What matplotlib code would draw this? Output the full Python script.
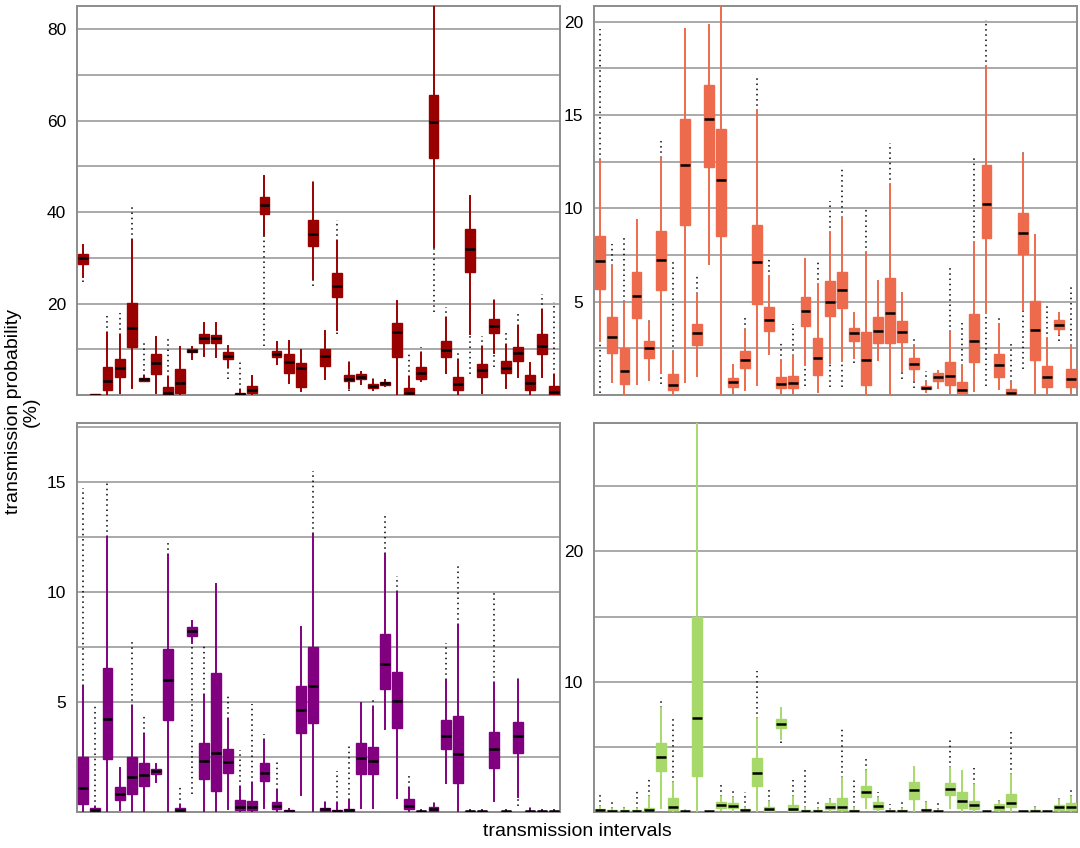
import numpy as np
import matplotlib
matplotlib.use("Agg")
import matplotlib.pyplot as plt

plt.rcParams['font.family'] = ['Liberation Sans', 'DejaVu Sans']

# ---------------- data ----------------
# each panel: whisker low, q1, median, q3, whisker high, outlier max (above), outlier min (below)
N = np.nan

p1_wlo = [25.9, 0, 0, 0.4, 1.5, 3.0, 0.4, 0, 0, 7.9, 8.5, 8.2, 6.2, 0, 0, 35.0, 6.8, 2.7, 0.9, 25.3,
          3.6, 14.2, 1.6, 2.4, 1.2, 2.0, 0, 0, 3.1, 32.3, 4.7, 0, 13.3, 0.5, 9.1, 1.6, 4.0, 0, 4.0, 0]
p1_q1 = [28.6, 0, 1.1, 4.0, 10.4, 3.1, 4.5, 0.1, 0.5, 9.3, 11.3, 11.3, 7.8, 0.1, 0.4, 39.6, 8.2, 4.9, 1.7, 32.6,
         6.4, 21.4, 3.1, 3.4, 1.6, 2.2, 8.4, 0, 3.6, 51.8, 8.2, 1.1, 26.8, 3.9, 13.5, 4.7, 7.4, 1.2, 9.0, 0]
p1_med = [29.9, 0.1, 3.1, 5.8, 14.6, 3.4, 6.9, 0.4, 2.6, 9.7, 12.4, 12.4, 8.5, 0.3, 1.2, 41.5, 8.9, 7.3, 5.8, 35.3,
          8.5, 23.9, 3.6, 4.0, 2.0, 2.6, 13.7, 0.4, 4.7, 59.6, 9.9, 2.3, 32.0, 5.5, 15.0, 6.0, 9.1, 2.7, 10.8, 0.6]
p1_q3 = [30.8, 0.2, 6.2, 7.8, 20.1, 3.8, 8.9, 1.8, 5.6, 10.1, 13.3, 13.1, 9.3, 0.5, 2.0, 43.3, 9.6, 8.9, 6.9, 38.3,
         10.1, 26.6, 4.4, 4.5, 2.4, 2.9, 15.7, 1.6, 6.1, 65.5, 11.8, 3.9, 36.3, 6.7, 16.6, 7.4, 10.6, 4.4, 13.3, 2.0]
p1_whi = [32.8, 0.3, 13.5, 13.1, 33.8, 4.2, 12.6, 4.0, 10.6, 10.6, 15.8, 15.8, 10.8, 1.0, 4.2, 47.8, 11.5, 11.7, 9.9, 46.4,
          14.0, 33.7, 6.9, 5.1, 3.3, 3.3, 20.6, 4.0, 9.1, 86.0, 16.8, 7.7, 43.4, 10.6, 20.6, 10.9, 15.0, 6.9, 18.5, 4.4]
p1_ohi = [N, N, 17.3, 17.9, 41.2, 11.3, N, 12.6, N, N, N, N, N, 7.2, N, N, N, N, N, 47.1,
          N, 38.3, 7.9, N, 3.8, N, N, 8.9, 10.6, N, 19.3, 9.5, N, 12.8, 21.5, 13.5, 18.2, N, 22.0, 20.4]
p1_olo = [24.6, N, N, N, N, N, N, N, N, N, N, N, 3.5, N, N, 10.8, N, N, N, 23.9,
          N, 13.3, 0.9, N, N, N, N, N, N, 18.2, N, N, 4.6, N, 6.2, N, N, N, N, N]

p2_wlo = [2.9, 0.7, 0, 0.6, 0.8, 1.2, 0, 0.7, 1.0, 7.0, 0, 0.1, 0.25, 0.55, 2.2, 0.1, 0.1, 1.6, 0.15, 1.7,
          1.8, 2.0, 0, 1.85, 0, 1.3, 0.8, 0.15, 0.4, 0.1, 0, 0.2, 4.4, 0.3, 0, 4.55, 0.1, 0.1, 3.25, 0.1]
p2_q1 = [5.7, 2.25, 0.6, 4.1, 2.0, 5.6, 0.25, 9.1, 2.7, 12.2, 8.5, 0.45, 1.45, 4.9, 3.45, 0.35, 0.35, 3.7, 1.05, 4.25,
         4.65, 2.9, 0.55, 2.8, 2.8, 2.85, 1.4, 0.3, 0.75, 0.55, 0.1, 1.75, 8.4, 0.95, 0, 7.55, 1.85, 0.45, 3.55, 0.45]
p2_med = [7.2, 3.1, 1.3, 5.3, 2.5, 7.25, 0.55, 12.3, 3.3, 14.8, 11.5, 0.7, 1.9, 7.1, 4.0, 0.6, 0.65, 4.5, 2.0, 5.0,
          5.65, 3.3, 1.85, 3.45, 4.4, 3.4, 1.65, 0.4, 0.95, 1.0, 0.25, 2.9, 10.25, 1.6, 0.1, 8.7, 3.5, 0.95, 3.75, 0.85]
p2_q3 = [8.5, 4.2, 2.5, 6.6, 2.9, 8.8, 1.1, 14.8, 3.8, 16.6, 14.25, 0.9, 2.35, 9.1, 4.7, 0.95, 1.0, 5.25, 3.05, 6.1,
         6.6, 3.6, 3.4, 4.2, 6.25, 3.95, 2.0, 0.5, 1.2, 1.75, 0.7, 4.35, 12.3, 2.2, 0.3, 9.75, 5.05, 1.55, 4.0, 1.4]
p2_whi = [12.6, 6.9, 5.0, 9.4, 3.9, 12.7, 2.3, 19.6, 5.4, 19.8, 21.5, 1.6, 3.5, 15.2, 6.3, 1.8, 2.1, 7.3, 5.9, 8.7,
          9.5, 4.4, 7.6, 6.1, 11.25, 5.45, 2.6, 0.7, 1.3, 3.4, 1.55, 8.15, 17.55, 3.75, 0.7, 12.9, 8.6, 3.0, 4.4, 2.6]
p2_ohi = [19.6, 8.1, 8.4, N, 4.2, 13.6, 7.2, N, 6.4, N, N, N, 4.3, 17.1, 7.4, 2.9, 3.8, N, 7.25, 10.4,
          12.25, N, 10.0, N, 13.5, N, 3.15, 1.3, N, 6.8, 3.85, 12.7, 20.1, 4.1, 2.8, 13.15, N, 4.75, N, 5.8]
p2_olo = [0.1, N, N, N, N, 0.6, N, N, N, N, N, N, N, N, N, N, N, 0.5, N, 0.45,
          0.45, 1.7, N, N, N, 0.85, 0.35, N, N, N, N, N, 0.5, N, N, 1.4, N, N, 2.9, N]

p3_wlo = [0, 0, 0, 0.08, 0, 0, 1.36, 0, 0, 7.65, 0, 0, 0.12, 0, 0, 0.18, 0, 0, 0.76, 0,
          0, 0, 0, 0.18, 0.18, 3.74, 0.6, 0, 0, 0, 1.32, 0, 0, 0, 0.5, 0, 0.68, 0, 0, 0]
p3_q1 = [0.33, 0.03, 2.4, 0.53, 0.8, 1.15, 1.7, 4.17, 0.03, 8.0, 1.5, 0.94, 1.74, 0.08, 0.08, 1.4, 0.1, 0.02, 3.56, 4.05,
         0.03, 0.02, 0.02, 1.7, 1.7, 5.56, 3.8, 0.1, 0, 0.03, 2.83, 1.29, 0, 0, 2.0, 0, 2.68, 0, 0, 0]
p3_med = [1.08, 0.08, 4.2, 0.8, 1.56, 1.67, 1.86, 6.0, 0.08, 8.23, 2.32, 2.68, 2.27, 0.23, 0.2, 1.77, 0.26, 0.05, 4.62, 5.7,
          0.1, 0.05, 0.08, 2.42, 2.3, 6.7, 5.03, 0.27, 0.03, 0.1, 3.44, 2.6, 0.03, 0.03, 2.83, 0.03, 3.44, 0.03, 0.03, 0.03]
p3_q3 = [2.5, 0.15, 6.55, 1.1, 2.5, 2.2, 1.95, 7.4, 0.15, 8.38, 3.1, 6.3, 2.83, 0.53, 0.48, 2.2, 0.45, 0.08, 5.7, 7.5,
         0.15, 0.08, 0.12, 3.1, 2.95, 8.06, 6.33, 0.56, 0.05, 0.2, 4.17, 4.35, 0.05, 0.05, 3.6, 0.05, 4.06, 0.05, 0.05, 0.05]
p3_whi = [5.7, 0.23, 12.5, 2.0, 4.8, 3.55, 2.15, 11.67, 0.3, 8.68, 5.3, 10.35, 4.2, 1.14, 1.3, 3.26, 1.0, 0.12, 8.4, 12.6,
          0.38, 0.38, 0.53, 4.95, 4.77, 11.7, 10.0, 1.06, 0.08, 0.33, 6.0, 8.5, 0.08, 0.08, 5.86, 0.08, 6.0, 0.1, 0.08, 0.08]
p3_ohi = [14.7, 4.8, 14.95, N, 7.8, 4.45, N, 12.25, 1.15, N, 7.6, N, 5.25, 2.8, 4.9, 3.55, 2.27, N, N, 15.5,
          0.56, 1.85, 3.1, N, 5.2, 13.5, 10.7, 1.67, N, 0.56, 7.65, 11.24, N, N, 10.0, N, 6.2, 0.26, N, N]
p3_olo = [N, N, N, N, N, N, N, N, N, 0.8, N, N, N, N, N, N, N, N, N, N,
          N, N, N, N, N, N, N, N, N, N, N, N, N, N, N, N, 0.26, N, N, N]

p4_wlo = [0, 0, 0, 0, 0, 0.25, 0, 0, 0, 0, 0.13, 0, 0, 0, 0, 5.6, 0, 0, 0, 0,
          0, 0, 0.25, 0, 0, 0, 0, 0, 0, 0.25, 0, 0, 0, 0, 0, 0, 0, 0, 0, 0]
p4_q1 = [0, 0, 0, 0, 0, 3.13, 0.13, 0, 2.74, 0, 0.26, 0.26, 0, 1.97, 0.05, 6.4, 0.05, 0, 0, 0.2,
         0.13, 0, 1.1, 0.2, 0, 0, 0.97, 0, 0, 1.28, 0.31, 0.2, 0, 0.13, 0.33, 0, 0, 0, 0.13, 0.13]
p4_med = [0.1, 0.05, 0.05, 0.05, 0.13, 4.18, 0.33, 0.03, 7.23, 0.02, 0.5, 0.46, 0.1, 2.95, 0.2, 6.77, 0.2, 0.05, 0.05, 0.38,
          0.33, 0.05, 1.51, 0.44, 0.03, 0.05, 1.67, 0.1, 0.03, 1.72, 0.82, 0.51, 0.02, 0.38, 0.69, 0.02, 0.08, 0.02, 0.33, 0.33]
p4_q3 = [0.2, 0.1, 0.1, 0.1, 0.3, 5.25, 1.03, 0.06, 14.95, 0.05, 0.77, 0.64, 0.18, 4.1, 0.33, 7.1, 0.5, 0.1, 0.1, 0.64,
         1.08, 0.1, 1.97, 0.72, 0.06, 0.1, 2.3, 0.2, 0.06, 2.18, 1.49, 0.85, 0.05, 0.56, 1.36, 0.05, 0.15, 0.05, 0.5, 0.64]
p4_whi = [0.38, 0.2, 0.2, 0.2, 1.15, 8.0, 2.18, 0.1, 30.5, 0.08, 1.15, 1.03, 0.3, 7.13, 0.77, 8.0, 1.15, 0.25, 0.2, 0.9,
          2.56, 0.3, 3.13, 1.08, 0.12, 0.2, 3.46, 0.64, 0.12, 3.33, 3.13, 2.05, 0.08, 0.77, 2.82, 0.08, 0.3, 0.08, 0.9, 1.15]
p4_ohi = [1.46, 0.85, 0.5, 1.6, 2.5, 8.6, 7.3, N, N, N, 2.18, 1.6, 1.54, 10.8, 1.8, N, 2.4, 3.46, 0.77, 1.15,
          6.54, 2.56, 4.1, 1.49, 0.59, 0.9, N, 1.03, 0.7, 5.64, N, 3.33, N, 1.08, 6.15, N, 0.64, N, 1.28, 1.92]
p4_olo = [N, N, N, N, N, N, N, N, N, N, N, N, N, N, N, 5.26, N, N, N, N,
          N, N, N, N, N, N, N, N, N, N, N, N, N, N, N, N, N, N, N, N]

panels = [
    dict(wlo=p1_wlo, q1=p1_q1, med=p1_med, q3=p1_q3, whi=p1_whi, ohi=p1_ohi, olo=p1_olo,
         color="#990000", ylim=85.1, grid=10, ticks=[20, 40, 60, 80]),
    dict(wlo=p2_wlo, q1=p2_q1, med=p2_med, q3=p2_q3, whi=p2_whi, ohi=p2_ohi, olo=p2_olo,
         color="#EE6A4C", ylim=20.86, grid=2.5, ticks=[5, 10, 15, 20]),
    dict(wlo=p3_wlo, q1=p3_q1, med=p3_med, q3=p3_q3, whi=p3_whi, ohi=p3_ohi, olo=p3_olo,
         color="#800080", ylim=17.68, grid=2.5, ticks=[5, 10, 15]),
    dict(wlo=p4_wlo, q1=p4_q1, med=p4_med, q3=p4_q3, whi=p4_whi, ohi=p4_ohi, olo=p4_olo,
         color="#A6D96A", ylim=29.9, grid=5, ticks=[10, 20]),
]

W, H = 1080, 848
fig = plt.figure(figsize=(W / 100, H / 100), dpi=100)

rects = [
    (77.3, 5.7, 560.3, 395.0),
    (594.3, 5.7, 1077.0, 395.0),
    (77.3, 422.7, 560.3, 811.7),
    (594.3, 422.7, 1077.0, 811.7),
]

for p, (x0, y0, x1, y1) in zip(panels, rects):
    ax = fig.add_axes([x0 / W, 1 - y1 / H, (x1 - x0) / W, (y1 - y0) / H])
    n = len(p["med"])
    pos = np.arange(1, n + 1)
    stats = []
    for i in range(n):
        stats.append(dict(whislo=p["wlo"][i], q1=p["q1"][i], med=p["med"][i],
                          q3=p["q3"][i], whishi=p["whi"][i], fliers=[]))
    c = p["color"]
    # outlier columns (dotted, black)
    for i in range(n):
        if not np.isnan(p["ohi"][i]):
            ax.vlines(pos[i], p["whi"][i], p["ohi"][i], colors="black", linewidth=1.1,
                      linestyles=(0, (1, 2.4)), zorder=2)
        if not np.isnan(p["olo"][i]):
            ax.vlines(pos[i], p["olo"][i], p["wlo"][i], colors="black", linewidth=1.1,
                      linestyles=(0, (1, 2.4)), zorder=2)
    ax.bxp(stats, positions=pos, widths=0.82, patch_artist=True, showcaps=False,
           showfliers=False, manage_ticks=False,
           boxprops=dict(facecolor=c, edgecolor=c, linewidth=1.0),
           whiskerprops=dict(color=c, linewidth=1.4),
           medianprops=dict(color="black", linewidth=1.8, solid_capstyle="butt"),
           zorder=3)
    ax.set_xlim(0.5, n + 0.5)
    ax.set_ylim(0, p["ylim"])
    ax.set_xticks([])
    ax.set_yticks(p["ticks"])
    ax.set_yticks(np.arange(p["grid"], p["ylim"], p["grid"]), minor=True)
    ax.tick_params(axis="y", which="both", length=0, labelsize=12.5, pad=8)
    ax.grid(True, axis="y", which="both", color="#a3a3a3", linewidth=1.3, zorder=0)
    ax.set_axisbelow(True)
    for s in ax.spines.values():
        s.set_color("#8c8c8c")
        s.set_linewidth(1.4)

fig.text(0.021, 0.515, "transmission probability\n(%)", rotation=90, ha="center", va="center",
         fontsize=14, multialignment="center", linespacing=1.05)
fig.text(577 / W, 1 - 832 / H, "transmission intervals", ha="center", va="center", fontsize=14)

fig.savefig("out.png", dpi=100)
